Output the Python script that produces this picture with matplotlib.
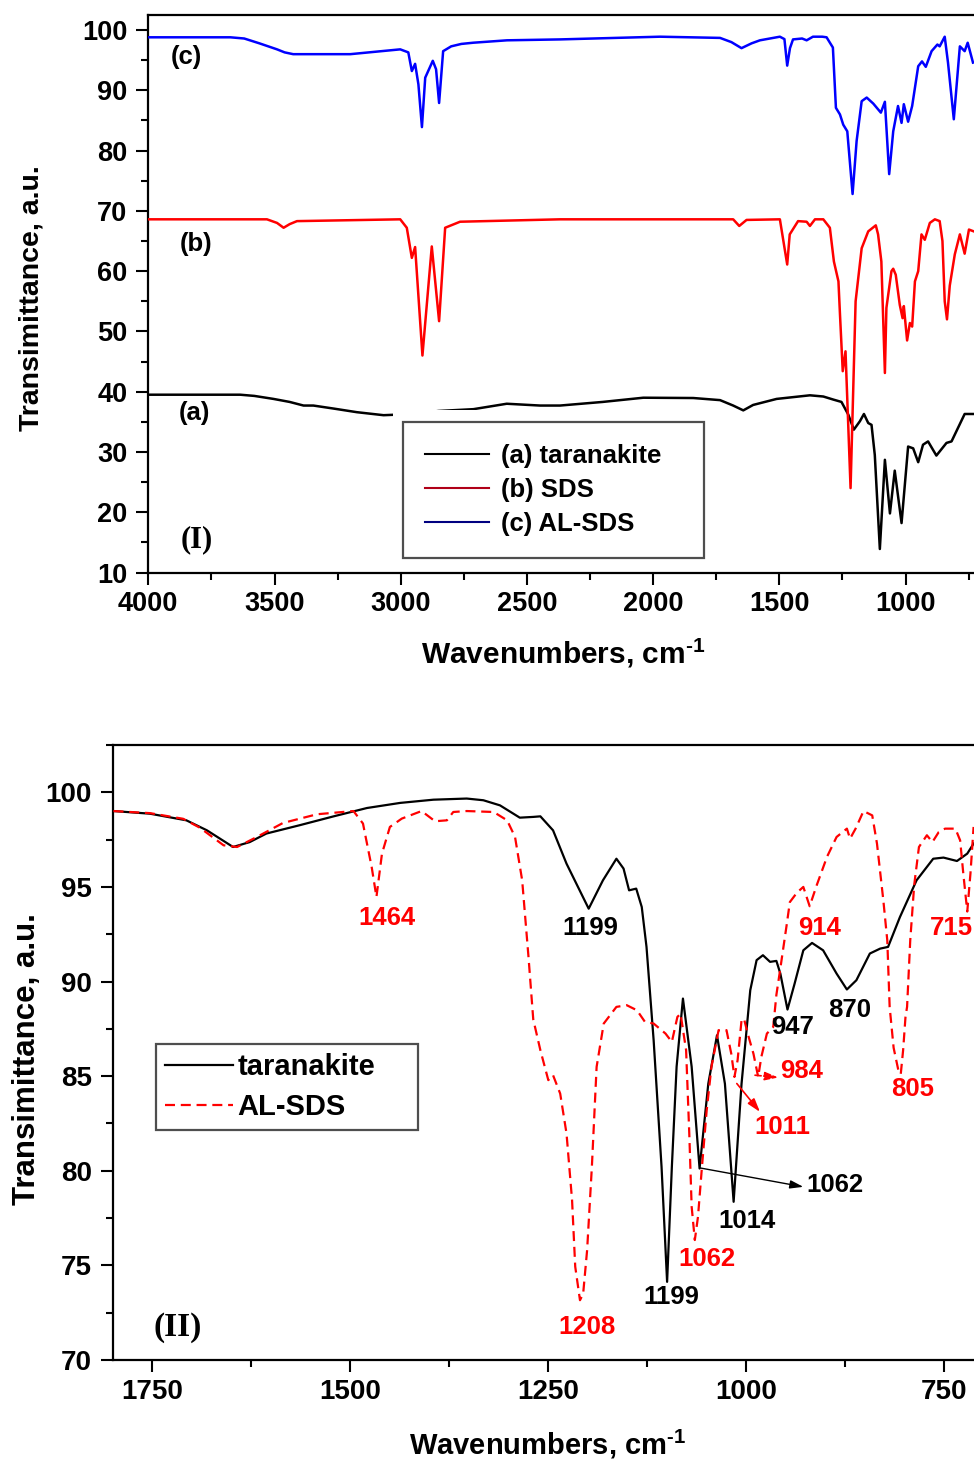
import matplotlib
matplotlib.use("Agg")
import matplotlib.pyplot as plt
from matplotlib.lines import Line2D
from matplotlib.patches import Rectangle
from matplotlib.ticker import MultipleLocator

plt.rcParams['font.family'] = ['Liberation Sans', 'DejaVu Sans']
plt.rcParams['font.weight'] = 'bold'
plt.rcParams['mathtext.fontset'] = 'custom'
plt.rcParams['mathtext.rm'] = 'Liberation Sans'
plt.rcParams['mathtext.bf'] = 'Liberation Sans:bold'

# ---------------- Panel I data ----------------
a_wn = [4000, 3636, 3580, 3504, 3440, 3385, 3346, 3266, 3174, 3068, 2950, 2850, 2712, 2580,
        2448, 2369, 2200, 2039, 1841, 1735, 1683, 1643, 1604, 1511, 1379, 1326, 1287, 1254,
        1227, 1205, 1181, 1165, 1148, 1135, 1122, 1102, 1082, 1062, 1043, 1016, 990, 970, 950,
        931, 911, 878, 838, 818, 766, 730]
a_t = [39.5, 39.5, 39.3, 38.8, 38.3, 37.7, 37.7, 37.2, 36.6, 36.1, 36.3, 36.8, 37.1, 38.0,
       37.7, 37.7, 38.3, 39.0, 38.95, 38.6, 37.7, 36.9, 37.8, 38.8, 39.4, 39.2, 38.7, 38.3,
       36.2, 33.7, 35.1, 36.3, 34.8, 34.5, 29.5, 13.9, 28.7, 19.8, 26.9, 18.2, 30.9, 30.6, 28.3,
       31.2, 31.75, 29.4, 31.5, 31.75, 36.3, 36.3]

b_wn = [4000, 3530, 3490, 3464, 3440, 3411, 3002, 2976, 2956, 2943, 2914, 2877, 2848, 2824,
        2765, 2369, 1683, 1659, 1630, 1498, 1469, 1459, 1426, 1392, 1379, 1359, 1326, 1300,
        1284, 1266, 1260, 1249, 1238, 1218, 1198, 1174, 1148, 1118, 1109, 1096, 1082, 1076,
        1056, 1049, 1039, 1023, 1012, 1007, 994, 983, 974, 963, 950, 937, 924, 904, 884, 865,
        854, 845, 836, 825, 805, 785, 766, 749, 730]
b_t = [68.6, 68.6, 68.0, 67.2, 67.8, 68.3, 68.6, 67.2, 62.2, 64.0, 46.0, 64.1, 51.7, 67.2,
       68.2, 68.6, 68.6, 67.5, 68.5, 68.6, 61.1, 66.1, 68.3, 68.2, 67.5, 68.6, 68.6, 67.2,
       61.6, 58.3, 52.9, 43.4, 46.7, 24.0, 55.0, 63.8, 66.6, 67.6, 66.1, 61.6, 43.1, 53.9,
       60.0, 60.4, 59.4, 54.4, 52.2, 54.2, 48.5, 51.4, 50.8, 58.3, 60.0, 66.1, 65.2, 68.0, 68.6, 68.3,
       65.0, 55.0, 52.0, 57.6, 62.8, 66.1, 62.9, 66.9, 66.6]

c_wn = [4000, 3675, 3620, 3560, 3490, 3460, 3426, 3200, 3002, 2970, 2956, 2943, 2930, 2916,
        2903, 2873, 2860, 2848, 2832, 2800, 2760, 2713, 2579, 2369, 1973, 1735, 1690, 1650,
        1610, 1577, 1498, 1480, 1469, 1458, 1446, 1410, 1392, 1367, 1330, 1313, 1288, 1276,
        1260, 1247, 1231, 1210, 1194, 1174, 1154, 1128, 1098, 1082, 1065, 1049, 1030, 1016,
        1007, 990, 974, 950, 935, 920, 897, 874, 865, 845, 832, 809, 785, 766, 754, 733]
c_t = [98.8, 98.8, 98.6, 97.8, 96.8, 96.3, 96.0, 96.0, 96.8, 96.3, 93.2, 94.4, 91.0, 83.9,
       92.1, 94.9, 93.5, 87.9, 96.5, 97.3, 97.7, 97.9, 98.3, 98.45, 98.9, 98.7, 98.0, 97.0,
       97.8, 98.3, 98.9, 98.5, 94.1, 97.0, 98.45, 98.6, 98.3, 98.9, 98.9, 98.8, 97.1, 87.1,
       86.0, 84.3, 83.2, 72.8, 81.6, 88.2, 88.8, 87.8, 86.3, 88.1, 76.1, 83.2, 87.4, 84.6,
       87.7, 84.8, 87.4, 94.0, 94.8, 93.9, 96.5, 97.6, 97.3, 98.9, 94.6, 85.2, 97.3, 96.5,
       97.9, 94.6]

# ---------------- Panel II data ----------------
t_wn = [1799, 1753, 1707, 1681, 1648, 1627, 1606, 1564, 1521, 1479, 1437, 1395, 1353, 1332,
        1311, 1286, 1269, 1260, 1244, 1227, 1199, 1181, 1164, 1155, 1148, 1139, 1132, 1126,
        1117, 1107, 1100, 1094, 1088, 1080, 1069, 1059, 1048, 1037, 1027, 1016, 1006, 995,
        987, 979, 970, 962, 957, 948, 939, 928, 917, 903, 886, 873, 861, 844, 831, 821, 806,
        785, 764, 751, 734, 721, 713]
t_t = [99.01, 98.87, 98.52, 97.99, 97.11, 97.37, 97.82, 98.26, 98.73, 99.17, 99.44, 99.61,
       99.67, 99.58, 99.31, 98.66, 98.70, 98.73, 97.99, 96.23, 93.85, 95.35, 96.49, 95.97,
       94.82, 94.91, 93.94, 91.83, 86.9, 80.2, 74.13, 80.2, 85.5, 89.1, 85.5, 80.12, 84.6,
       87.16, 84.6, 78.36, 84.6, 89.54, 91.13, 91.39, 91.04, 91.09, 90.42, 88.52, 89.89,
       91.65, 92.04, 91.65, 90.42, 89.58, 90.07, 91.48, 91.74, 91.83, 93.41, 95.35, 96.49,
       96.55, 96.37, 96.76, 97.29]

s_wn = [1799, 1753, 1711, 1690, 1660, 1643, 1618, 1585, 1542, 1496, 1484, 1473, 1467, 1460,
        1450, 1435, 1410, 1393, 1378, 1370, 1353, 1319, 1302, 1292, 1283, 1275, 1269, 1260,
        1250, 1244, 1235, 1227, 1220, 1216, 1210, 1206, 1201, 1195, 1189, 1180, 1164, 1151,
        1138, 1128, 1117, 1102, 1094, 1087, 1083, 1076, 1072, 1069, 1065, 1061, 1056, 1050,
        1044, 1035, 1025, 1019, 1015, 1011, 1006, 1003, 997, 991, 985, 981, 974, 966, 962,
        957, 949, 945, 936, 928, 920, 911, 898, 886, 873, 869, 862, 852, 841, 835, 827, 822,
        819, 814, 808, 805, 802, 799, 797, 793, 788, 782, 772, 765, 757, 749, 736, 730, 726,
        721, 717, 713]
s_t = [99.01, 98.9, 98.6, 98.13, 97.2, 97.11, 97.64, 98.38, 98.84, 99.01, 98.35, 96.05, 94.47,
       96.76, 98.17, 98.61, 99.01, 98.47, 98.52, 98.96, 99.01, 98.96, 98.52, 97.64, 95.35,
       91.3, 88.0, 86.37, 84.79, 85.05, 84.08, 81.97, 78.45, 74.93, 73.16, 73.5, 75.8, 80.2,
       85.49, 87.78, 88.66, 88.75, 88.48, 87.87, 87.78, 87.25, 86.81, 88.13, 88.3, 86.37,
       81.97, 78.1, 76.34, 77.57, 80.2, 83.2, 85.49, 87.43, 87.43, 86.19, 84.96, 85.84, 87.96,
       88.04, 87.07, 86.19, 84.96, 86.02, 87.25, 87.6, 89.3, 90.7, 93.0, 94.2, 94.7, 95.0,
       93.98, 95.1, 96.6, 97.64, 98.08, 97.55, 98.08, 99.01, 98.78, 97.29, 94.3, 92.18, 88.66,
       86.5, 85.31, 85.1, 86.37, 88.13, 88.66, 92.18, 95.1, 97.11, 97.73, 97.37, 97.9, 98.08,
       98.08, 97.46, 95.7, 93.7, 95.7, 98.17]

top_labels = ['(a) taranakite', '(b) SDS', '(c) AL-SDS']
bot_labels = ['taranakite', 'AL-SDS']

# peak annotations: (text, x, y, colour)
peak_notes = [('1464', 1454, 93.34, 'red'), ('1199', 1197, 92.82, 'black'),
              ('914', 907, 92.82, 'red'), ('947', 941, 87.59, 'black'),
              ('870', 869, 88.48, 'black'), ('984', 929.7, 85.26, 'red'),
              ('805', 790, 84.31, 'red'), ('1011', 955, 82.3, 'red'),
              ('1062', 888, 79.24, 'black'), ('1014', 999, 77.34, 'black'),
              ('1062', 1050, 75.33, 'red'), ('1199', 1095, 73.32, 'black'),
              ('1208', 1201, 71.74, 'red')]

W, H = 974, 1463
fig = plt.figure(figsize=(W / 100, H / 100), dpi=100)


def style_axes(ax, fs):
    for s in ['left', 'bottom', 'top']:
        ax.spines[s].set_linewidth(1.6)
    ax.spines['right'].set_visible(False)
    ax.tick_params(which='major', direction='out', length=8.5, width=1.5,
                   labelsize=fs, pad=5)
    ax.tick_params(which='minor', direction='out', length=5, width=1.5)
    ax.tick_params(axis='y', pad=6.5)
    for lab in ax.get_xticklabels() + ax.get_yticklabels():
        lab.set_fontweight('bold')


xlabel_txt = r'Wavenumbers, cm$^{\text{-1}}$'

# ---------------- Panel I ----------------
l1, r1 = 148.3, 974
t1, b1 = 15, 572.5
ax1 = fig.add_axes([l1 / W, 1 - b1 / H, (r1 - l1) / W, (b1 - t1) / H])
ax1.plot(a_wn, a_t, color='black', lw=1.8, zorder=3)
ax1.plot(b_wn, b_t, color='red', lw=1.8, zorder=3)
ax1.plot(c_wn, c_t, color='blue', lw=1.8, zorder=3)
ax1.set_xlim(4000, 729)
ax1.set_ylim(10, 102.5)
ax1.xaxis.set_major_locator(MultipleLocator(500))
ax1.xaxis.set_minor_locator(MultipleLocator(250))
ax1.yaxis.set_major_locator(MultipleLocator(10))
ax1.yaxis.set_minor_locator(MultipleLocator(5))
style_axes(ax1, 19.5)
ax1.set_xlabel(xlabel_txt, fontsize=21.5, fontweight='bold')
ax1.xaxis.set_label_coords(0.502, -0.145)
ax1.xaxis.label.set_va('center')
ax1.set_ylabel('Transimittance, a.u.', fontsize=20.5, fontweight='bold')
ax1.yaxis.set_label_coords(-0.142, 0.4915)
ax1.yaxis.label.set_va('center')

ax1.text(3851, 95.5, '(c)', fontsize=18.5, fontweight='bold', ha='center', va='center')
ax1.text(3811, 64.5, '(b)', fontsize=18.5, fontweight='bold', ha='center', va='center')
ax1.text(3819, 36.5, '(a)', fontsize=18.5, fontweight='bold', ha='center', va='center')
ax1.text(3807, 15.4, '(I)', fontsize=22, fontweight='bold', ha='center', va='center',
         family='Liberation Serif')

ax1.add_patch(Rectangle((0.2963, 0.0135), 0.3864, 0.278, transform=ax1.transAxes,
                        facecolor='white', edgecolor='none', zorder=4))
h1 = [Line2D([], [], color='black', lw=1.5), Line2D([], [], color='#b00018', lw=1.5),
      Line2D([], [], color='#000080', lw=1.5)]
leg1 = ax1.legend(h1, top_labels, loc='upper left',
                  bbox_to_anchor=(0.3085, 0.028, 0.3645, 0.242), mode='expand',
                  borderaxespad=0, frameon=True, fancybox=False,
                  edgecolor='#222222', handlelength=2.5, handletextpad=0.45,
                  labelspacing=0.4, borderpad=0.85,
                  prop={'weight': 'bold', 'size': 18.5})
leg1.get_frame().set_linewidth(1.6)
leg1.set_zorder(5)

# ---------------- Panel II ----------------
l2, r2 = 112.7, 974
t2, b2 = 745, 1360
ax2 = fig.add_axes([l2 / W, 1 - b2 / H, (r2 - l2) / W, (b2 - t2) / H])
ax2.plot(t_wn, t_t, color='black', lw=1.6, zorder=3, label=bot_labels[0])
ax2.plot(s_wn, s_t, color='red', lw=1.6, ls=(0, (4.5, 2.6)), zorder=3, label=bot_labels[1])
ax2.set_xlim(1800, 712.5)
ax2.set_ylim(70, 102.5)
ax2.xaxis.set_major_locator(MultipleLocator(250))
ax2.xaxis.set_minor_locator(MultipleLocator(125))
ax2.yaxis.set_major_locator(MultipleLocator(5))
ax2.yaxis.set_minor_locator(MultipleLocator(2.5))
style_axes(ax2, 20)
ax2.set_xlabel(xlabel_txt, fontsize=21, fontweight='bold')
ax2.xaxis.set_label_coords(0.505, -0.138)
ax2.xaxis.label.set_va('center')
ax2.set_ylabel('Transimittance, a.u.', fontsize=22.5, fontweight='bold')
ax2.yaxis.set_label_coords(-0.1, 0.490)
ax2.yaxis.label.set_va('center')

for txt, x, y, col in peak_notes:
    ax2.text(x, y, txt, color=col, fontsize=18.5, fontweight='bold', ha='center', va='center',
             zorder=6)
ax2.text(741, 92.82, '715', color='red', fontsize=18.5, fontweight='bold', ha='center',
         va='center', clip_on=False)
ax2.text(1717.6, 71.74, '(II)', fontsize=24, fontweight='bold', ha='center', va='center',
         family='Liberation Serif')

ax2.annotate('', xy=(928, 79.15), xytext=(1058.5, 80.15),
             arrowprops=dict(arrowstyle='-|>,head_length=0.8,head_width=0.25', color='black',
                             lw=1.0, shrinkA=0, shrinkB=0))
ax2.annotate('', xy=(959.6, 84.93), xytext=(989, 85.05),
             arrowprops=dict(arrowstyle='-|>,head_length=0.8,head_width=0.25', color='red',
                             lw=1.2, ls='--', shrinkA=0, shrinkB=0))
ax2.annotate('', xy=(982.7, 83.11), xytext=(1012, 84.61),
             arrowprops=dict(arrowstyle='-|>,head_length=0.8,head_width=0.25', color='red',
                             lw=1.2, shrinkA=0, shrinkB=0))

leg2 = ax2.legend(loc='upper left', bbox_to_anchor=(0.0503, 0.3642, 0.304, 0.1496),
                  mode='expand', borderaxespad=0,
                  frameon=True, fancybox=False, edgecolor='#222222', handlelength=2.35,
                  handletextpad=0.15, labelspacing=0.42, borderpad=0.3,
                  prop={'weight': 'bold', 'size': 21})
leg2.get_frame().set_linewidth(1.6)
leg2.set_zorder(5)

fig.savefig('out.png', dpi=100)
